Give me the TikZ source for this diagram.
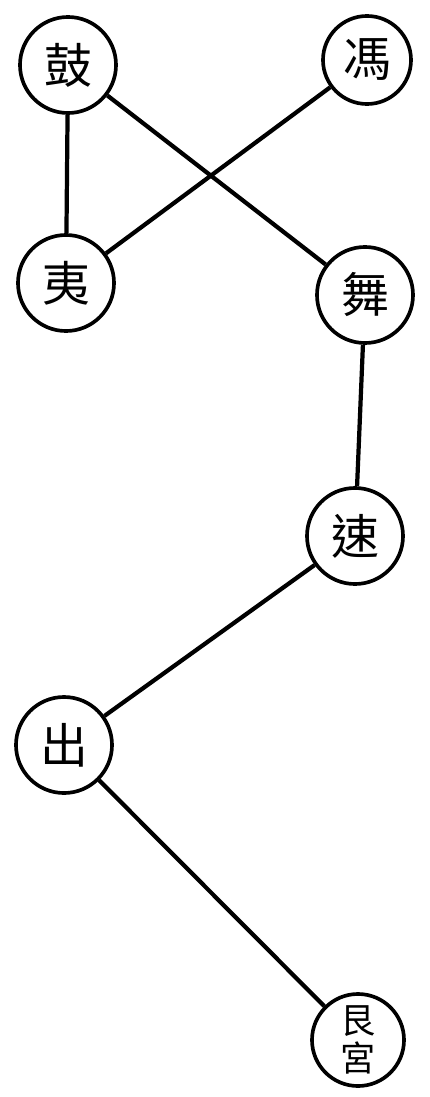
\documentclass[tikz,border=0pt]{standalone}
\usepackage{fontspec}
\newfontfamily\cjk{Noto Sans CJK TC}
\begin{document}
\begin{tikzpicture}[x=0.025cm, y=-0.025cm,
          every node/.style = {shape=circle, inner sep=0pt, minimum size=2.4cm, draw, line width=2.6pt, align=center, font=\cjk\fontsize{34}{34}\selectfont},
          small/.style = {font=\cjk\fontsize{25}{27}\selectfont},
          link/.style = {line width=3pt}]
          \useasboundingbox (0,0) rectangle (429,1097);
          \node (gu) at (68,65) {鼓};
          \node[minimum size=2.2cm] (feng) at (367,60) {馮};
          \node (yi) at (66,283) {夷};
          \node (wu) at (365,295) {舞};
          \node (su) at (355,536) {速};
          \node (chu) at (64,745) {出};
          \node[small, minimum size=2.3cm] (gen) at (358,1040) {艮\\宮};
          \draw[link] (gu) -- (yi);
          \draw[link] (gu) -- (wu);
          \draw[link] (feng) -- (yi);
          \draw[link] (wu) -- (su);
          \draw[link] (su) -- (chu);
          \draw[link] (chu) -- (gen);
\end{tikzpicture}
\end{document}
